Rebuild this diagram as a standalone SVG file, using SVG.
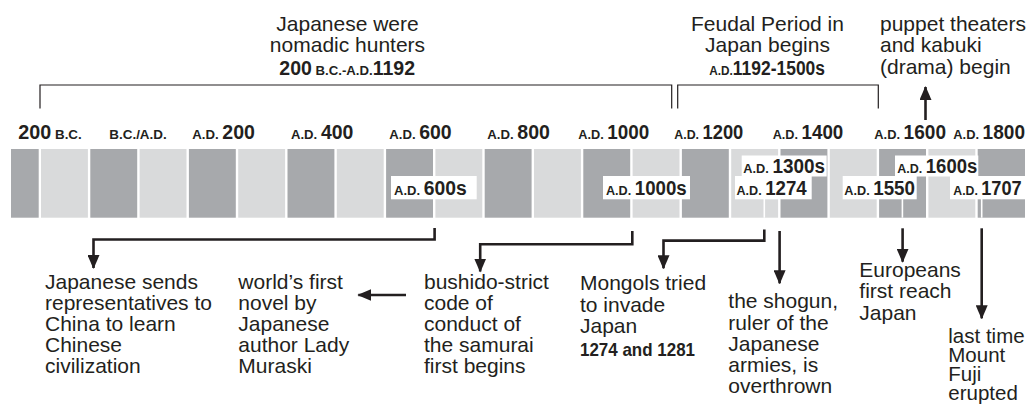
<svg xmlns="http://www.w3.org/2000/svg" width="1033" height="405" viewBox="0 0 1033 405">
<style>
.dk{fill:#a7a9ac}
.lt{fill:#d9dadb}
.box{fill:#ffffff}
.tick{stroke:#ffffff;stroke-width:1.6}
.hdr{font-family:"Liberation Sans",Arial,sans-serif;font-weight:bold;fill:#231f20}
.sc{font-size:13.5px}
.num{font-size:20px}
.txt{font-family:"Liberation Sans",Arial,sans-serif;font-size:21px;fill:#231f20}
.bold{font-weight:bold;font-size:19px}
.conn{stroke:#231f20;stroke-width:2.6;fill:none}
.brk{stroke:#231f20;stroke-width:1.2;fill:none}
</style>
<defs>
<marker id="ah" viewBox="0 0 14 12" refX="13" refY="6" markerWidth="14" markerHeight="12" orient="auto" markerUnits="userSpaceOnUse">
<path d="M0,0 L14,6 L0,12 Z" fill="#231f20"/>
</marker>
</defs>

<g id="timeline-bar">
<rect class="dk" x="11" y="149" width="27.7" height="68.7"/>
<rect class="lt" x="41" y="149" width="46.9" height="68.7"/>
<rect class="dk" x="90.3" y="149" width="46.9" height="68.7"/>
<rect class="lt" x="139.6" y="149" width="46.9" height="68.7"/>
<rect class="dk" x="188.9" y="149" width="46.9" height="68.7"/>
<rect class="lt" x="238.2" y="149" width="46.9" height="68.7"/>
<rect class="dk" x="287.5" y="149" width="46.9" height="68.7"/>
<rect class="lt" x="336.8" y="149" width="46.9" height="68.7"/>
<rect class="dk" x="386.1" y="149" width="46.9" height="68.7"/>
<rect class="lt" x="435.4" y="149" width="46.9" height="68.7"/>
<rect class="dk" x="484.7" y="149" width="46.9" height="68.7"/>
<rect class="lt" x="534" y="149" width="46.9" height="68.7"/>
<rect class="dk" x="583.3" y="149" width="46.9" height="68.7"/>
<rect class="lt" x="632.6" y="149" width="46.9" height="68.7"/>
<rect class="dk" x="681.9" y="149" width="46.9" height="68.7"/>
<rect class="lt" x="731.2" y="149" width="46.9" height="68.7"/>
<rect class="dk" x="780.5" y="149" width="46.9" height="68.7"/>
<rect class="lt" x="829.8" y="149" width="46.9" height="68.7"/>
<rect class="dk" x="879.1" y="149" width="46.9" height="68.7"/>
<rect class="lt" x="928.4" y="149" width="46.9" height="68.7"/>
<rect class="dk" x="977.7" y="149" width="47.3" height="68.7"/>
<line class="tick" x1="764.3" y1="198" x2="764.3" y2="217.7"/>
<line class="tick" x1="902.4" y1="198" x2="902.4" y2="217.7"/>
<line class="tick" x1="981.7" y1="198" x2="981.7" y2="217.7"/>
</g>

<g id="scale-labels" class="hdr">
<text x="18.3" y="139" textLength="63.4" lengthAdjust="spacingAndGlyphs"><tspan class="num">200</tspan><tspan class="sc"> B.C.</tspan></text>
<text x="109.3" y="139" textLength="57.4" lengthAdjust="spacingAndGlyphs"><tspan class="sc">B.C./A.D.</tspan></text>
<text x="192.3" y="139" textLength="62.7" lengthAdjust="spacingAndGlyphs"><tspan class="sc">A.D. </tspan><tspan class="num">200</tspan></text>
<text x="291" y="139" textLength="62.3" lengthAdjust="spacingAndGlyphs"><tspan class="sc">A.D. </tspan><tspan class="num">400</tspan></text>
<text x="389.3" y="139" textLength="62.4" lengthAdjust="spacingAndGlyphs"><tspan class="sc">A.D. </tspan><tspan class="num">600</tspan></text>
<text x="487.3" y="139" textLength="62.7" lengthAdjust="spacingAndGlyphs"><tspan class="sc">A.D. </tspan><tspan class="num">800</tspan></text>
<text x="578.3" y="139" textLength="71" lengthAdjust="spacingAndGlyphs"><tspan class="sc">A.D. </tspan><tspan class="num">1000</tspan></text>
<text x="674.3" y="139" textLength="69" lengthAdjust="spacingAndGlyphs"><tspan class="sc">A.D. </tspan><tspan class="num">1200</tspan></text>
<text x="772.7" y="139" textLength="70.6" lengthAdjust="spacingAndGlyphs"><tspan class="sc">A.D. </tspan><tspan class="num">1400</tspan></text>
<text x="874.3" y="139" textLength="71.7" lengthAdjust="spacingAndGlyphs"><tspan class="sc">A.D. </tspan><tspan class="num">1600</tspan></text>
<text x="953.3" y="139" textLength="71.7" lengthAdjust="spacingAndGlyphs"><tspan class="sc">A.D. </tspan><tspan class="num">1800</tspan></text>
</g>

<g id="period-brackets">
<path class="brk" d="M40,108.5 V85 H671.7 V108.5"/>
<path class="brk" d="M677.7,108.5 V85 H878.3 V108.5"/>
</g>

<g id="period-nomadic">
<text class="txt" x="347.5" y="30.5" text-anchor="middle">Japanese were</text>
<text class="txt" x="347.5" y="51.5" text-anchor="middle">nomadic hunters</text>
<text class="hdr" x="279.3" y="74.5" textLength="135.7" lengthAdjust="spacingAndGlyphs"><tspan class="num">200</tspan><tspan class="sc"> B.C.-A.D.</tspan><tspan class="num">1192</tspan></text>
</g>

<g id="period-feudal">
<text class="txt" x="767.5" y="30.5" text-anchor="middle">Feudal Period in</text>
<text class="txt" x="767.5" y="51.5" text-anchor="middle">Japan begins</text>
<text class="hdr" x="709.3" y="74.5" textLength="115.7" lengthAdjust="spacingAndGlyphs"><tspan class="sc">A.D.</tspan><tspan class="num">1192-1500s</tspan></text>
</g>

<g id="event-puppet">
<text class="txt" x="880" y="30.5">puppet theaters</text>
<text class="txt" x="880" y="51.5">and kabuki</text>
<text class="txt" x="880" y="73.5">(drama) begin</text>
</g>

<g id="date-600s">
<rect class="box" x="391" y="176" width="85.7" height="23.3"/>
<text class="hdr" x="394" y="195" textLength="72.7" lengthAdjust="spacingAndGlyphs"><tspan class="sc">A.D. </tspan><tspan class="num">600s</tspan></text>
</g>
<g id="date-1000s">
<rect class="box" x="603" y="176" width="87" height="23.3"/>
<text class="hdr" x="606" y="195" textLength="80.7" lengthAdjust="spacingAndGlyphs"><tspan class="sc">A.D. </tspan><tspan class="num">1000s</tspan></text>
</g>
<g id="date-1300s">
<rect class="box" x="741.7" y="155.5" width="85" height="21"/>
<text class="hdr" x="743.3" y="172.5" textLength="81.7" lengthAdjust="spacingAndGlyphs"><tspan class="sc">A.D. </tspan><tspan class="num">1300s</tspan></text>
</g>
<g id="date-1274">
<rect class="box" x="735" y="176" width="76.7" height="23.3"/>
<text class="hdr" x="736.5" y="195" textLength="70.2" lengthAdjust="spacingAndGlyphs"><tspan class="sc">A.D. </tspan><tspan class="num">1274</tspan></text>
</g>
<g id="date-1550">
<rect class="box" x="842.7" y="176" width="74" height="23.3"/>
<text class="hdr" x="844.3" y="195" textLength="70.7" lengthAdjust="spacingAndGlyphs"><tspan class="sc">A.D. </tspan><tspan class="num">1550</tspan></text>
</g>
<g id="date-1600s">
<rect class="box" x="895" y="155.5" width="83.3" height="21"/>
<text class="hdr" x="897.3" y="172.5" textLength="80" lengthAdjust="spacingAndGlyphs"><tspan class="sc">A.D. </tspan><tspan class="num">1600s</tspan></text>
</g>
<g id="date-1707">
<rect class="box" x="950" y="176" width="75" height="23.3"/>
<text class="hdr" x="953.3" y="195" textLength="68.4" lengthAdjust="spacingAndGlyphs"><tspan class="sc">A.D. </tspan><tspan class="num">1707</tspan></text>
</g>

<g id="event-representatives" class="txt">
<text x="45" y="288.7">Japanese sends</text>
<text x="45" y="309.7">representatives to</text>
<text x="45" y="330.7">China to learn</text>
<text x="45" y="351.7">Chinese</text>
<text x="45" y="372.7">civilization</text>
</g>
<g id="event-novel" class="txt">
<text x="238.3" y="288.7">world’s first</text>
<text x="238.3" y="309.7">novel by</text>
<text x="238.3" y="330.7">Japanese</text>
<text x="238.3" y="351.7">author Lady</text>
<text x="238.3" y="372.7">Muraski</text>
</g>
<g id="event-bushido" class="txt">
<text x="424" y="288.7">bushido-strict</text>
<text x="424" y="309.7">code of</text>
<text x="424" y="330.7">conduct of</text>
<text x="424" y="351.7">the samurai</text>
<text x="424" y="372.7">first begins</text>
</g>
<g id="event-mongols" class="txt">
<text x="580" y="290">Mongols tried</text>
<text x="580" y="311.5">to invade</text>
<text x="580" y="333">Japan</text>
<text class="bold" x="580" y="356" textLength="115" lengthAdjust="spacingAndGlyphs">1274 and 1281</text>
</g>
<g id="event-shogun" class="txt">
<text x="728.3" y="308.3">the shogun,</text>
<text x="728.3" y="329.5">ruler of the</text>
<text x="728.3" y="350.7">Japanese</text>
<text x="728.3" y="371.9">armies, is</text>
<text x="728.3" y="393.1">overthrown</text>
</g>
<g id="event-europeans" class="txt">
<text x="859.3" y="277">Europeans</text>
<text x="859.3" y="298.3">first reach</text>
<text x="859.3" y="319.6">Japan</text>
</g>
<g id="event-fuji" class="txt" style="font-size:20.5px">
<text x="948.3" y="342.5">last time</text>
<text x="948.3" y="361.5">Mount</text>
<text x="948.3" y="380.5">Fuji</text>
<text x="948.3" y="399.5">erupted</text>
</g>

<g id="connectors">
<path class="conn" d="M434.6,228 V239.5 H93.5 V268" marker-end="url(#ah)"/>
<path class="conn" d="M632.3,231 V244.2 H480.2 V271.5" marker-end="url(#ah)"/>
<path class="conn" d="M764.3,229.5 V240.6 H663.5 V268.3" marker-end="url(#ah)"/>
<path class="conn" d="M779.6,231 V283.3" marker-end="url(#ah)"/>
<path class="conn" d="M902.6,228.3 V261.7" marker-end="url(#ah)"/>
<path class="conn" d="M981.7,228.3 V318.3" marker-end="url(#ah)"/>
<path class="conn" d="M406,295 H358.3" marker-end="url(#ah)"/>
<path class="conn" d="M925.5,120 V87" marker-end="url(#ah)"/>
</g>
</svg>
